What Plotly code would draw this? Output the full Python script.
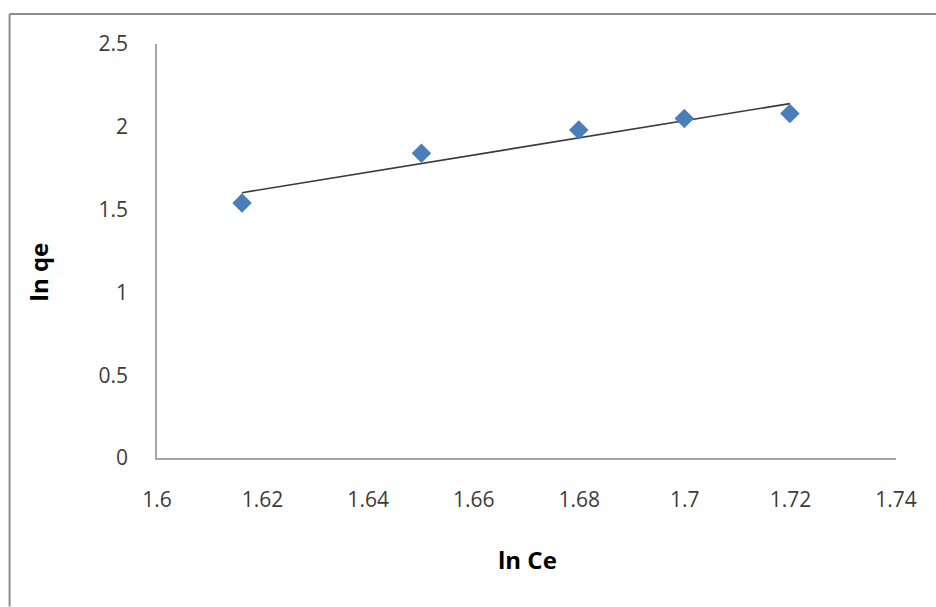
import numpy as np
import plotly.graph_objects as go

# Data
ln_ce = [1.6161, 1.6501, 1.6799, 1.6999, 1.7199]
ln_qe = [1.54, 1.84, 1.98, 2.05, 2.08]

x_ticks = [1.6, 1.62, 1.64, 1.66, 1.68, 1.7, 1.72, 1.74]
x_tick_labels = ["1.6", "1.62", "1.64", "1.66", "1.68", "1.7", "1.72", "1.74"]
y_ticks = [0, 0.5, 1, 1.5, 2, 2.5]
y_tick_labels = ["0", "0.5", "1", "1.5", "2", "2.5"]

# Linear trendline (least squares fit of the data)
slope, intercept = np.polyfit(ln_ce, ln_qe, 1)
trend_x = [min(ln_ce), max(ln_ce)]
trend_y = [slope * v + intercept for v in trend_x]

FONT = "Open Sans, Lato, sans-serif"

fig = go.Figure()
fig.add_trace(go.Scatter(
    x=trend_x, y=trend_y, mode="lines",
    line=dict(color="#3a3a3a", width=1.6),
    hoverinfo="skip", showlegend=False,
))
fig.add_trace(go.Scatter(
    x=ln_ce, y=ln_qe, mode="markers",
    marker=dict(symbol="diamond", size=15, color="#4A7EBB",
                line=dict(width=0)),
    showlegend=False,
))

L, R, T, B = 156.5, 40, 44, 148.7
W, H = 936, 607
pw, ph = W - L - R, H - T - B

def px_x(p):
    return (p - L) / pw

def px_y(p):
    return (H - B - p) / ph

fig.update_layout(
    width=W, height=H,
    margin=dict(l=L, r=R, t=T, b=B, pad=0),
    paper_bgcolor="white", plot_bgcolor="white",
    font=dict(family=FONT, color="#404040", size=21),
    xaxis=dict(
        range=[1.6, 1.74], tickvals=x_ticks, ticktext=x_tick_labels,
        showgrid=False, zeroline=False, showline=True,
        linecolor="#A6A6A6", linewidth=1.5, ticks="",
        ticklabelstandoff=22,
        tickfont=dict(family=FONT, size=21, color="#3c3c3c"),
    ),
    yaxis=dict(
        range=[0, 2.5], tickvals=y_ticks, ticktext=y_tick_labels,
        showgrid=False, zeroline=False, showline=True,
        linecolor="#A6A6A6", linewidth=1.5, ticks="",
        ticklabelstandoff=23,
        tickfont=dict(family=FONT, size=21, color="#3c3c3c"),
    ),
    annotations=[
        dict(text="<b>ln Ce</b>", xref="paper", yref="paper",
             x=px_x(527), y=px_y(560), xanchor="center", yanchor="middle",
             showarrow=False, font=dict(family=FONT, size=24, color="#000000")),
        dict(text="<b>ln qe</b>", xref="paper", yref="paper",
             x=px_x(38), y=px_y(272), xanchor="center", yanchor="middle",
             textangle=-90,
             showarrow=False, font=dict(family=FONT, size=24, color="#000000")),
    ],
    shapes=[
        dict(type="line", xref="paper", yref="paper",
             x0=px_x(9), x1=px_x(936), y0=px_y(14), y1=px_y(14),
             line=dict(color="#8C8C8C", width=2)),
        dict(type="line", xref="paper", yref="paper",
             x0=px_x(9), x1=px_x(9), y0=px_y(14), y1=px_y(607),
             line=dict(color="#8C8C8C", width=2)),
    ],
)

fig.write_html(
    "out.html",
    config={"displayModeBar": False},
    post_script="document.body.style.margin='0';document.body.style.overflow='hidden';",
)
